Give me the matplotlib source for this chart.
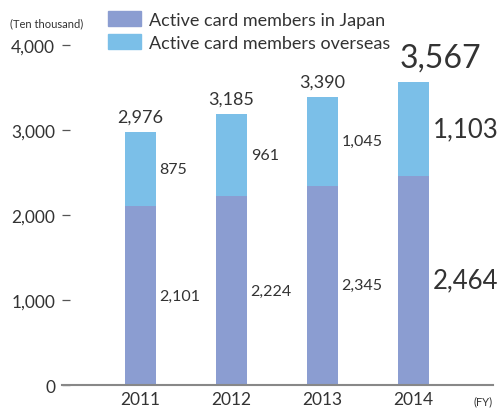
import matplotlib
matplotlib.use('Agg')
import matplotlib.pyplot as plt
from matplotlib.patches import Patch

plt.rcParams['font.family'] = ['Lato', 'DejaVu Sans']

years    = ['2011', '2012', '2013', '2014']
japan    = [2101, 2224, 2345, 2464]
overseas = [875, 961, 1045, 1103]
totals   = [2976, 3185, 3390, 3567]

C_japan = '#8b9dd1'
C_over  = '#7bbfe8'
C_text  = '#333333'

fig = plt.figure(figsize=(5.03, 4.10), dpi=100)
ax = fig.add_axes([0.1233, 0.0585, 0.8569, 0.8293])

x = list(range(len(years)))
w = 0.34
ax.bar(x, japan, width=w, color=C_japan, zorder=2)
ax.bar(x, overseas, width=w, bottom=japan, color=C_over, zorder=2)

ax.set_xlim(-0.8626, 3.8736)
ax.set_ylim(0, 4000)

# segment + total labels (last year drawn larger)
for i in x:
    big = (i == len(x) - 1)
    seg_fs = 18.5 if big else 11.5
    ax.text(i + w / 2 + 0.04, japan[i] / 2, f'{japan[i]:,}', ha='left', va='center',
            fontsize=seg_fs, color=C_text)
    ax.text(i + w / 2 + 0.04, japan[i] + overseas[i] / 2, f'{overseas[i]:,}',
            ha='left', va='center', fontsize=seg_fs, color=C_text)
    if big:
        ax.text(i + 0.29, totals[i] + 110, f'{totals[i]:,}', ha='center', va='bottom',
                fontsize=23, color=C_text, clip_on=False)
    else:
        ax.text(i, totals[i] + 90, f'{totals[i]:,}', ha='center', va='bottom',
                fontsize=13, color=C_text)

ax.set_xticks(x)
ax.set_xticklabels(years, fontsize=12.5, color=C_text)
ax.tick_params(axis='x', length=0, pad=4)

ax.set_yticks([0, 1000, 2000, 3000, 4000])
ax.set_yticklabels(['0', '1,000', '2,000', '3,000', '4,000'], fontsize=12.5, color=C_text)
ax.tick_params(axis='y', direction='in', length=6, width=0.9, color='#555555', pad=5)

for s in ['top', 'right', 'left']:
    ax.spines[s].set_visible(False)
ax.spines['bottom'].set_color('#888888')
ax.spines['bottom'].set_linewidth(1.5)

fig.text(10 / 503, 1 - 24 / 410, '(Ten thousand)', fontsize=8, color=C_text,
         ha='left', va='center')
fig.text(474 / 503, 1 - 402 / 410, '(FY)', fontsize=8, color=C_text,
         ha='left', va='center')

handles = [Patch(color=C_japan), Patch(color=C_over)]
fig.legend(handles, ['Active card members in Japan', 'Active card members overseas'],
           loc='upper left', bbox_to_anchor=(93 / 503, 1 + 3 / 410), frameon=False,
           fontsize=13, labelcolor=C_text, handlelength=1.83, handleheight=0.9,
           handletextpad=0.4, labelspacing=0.35, borderpad=0.35)

fig.savefig('out.png', dpi=100)
